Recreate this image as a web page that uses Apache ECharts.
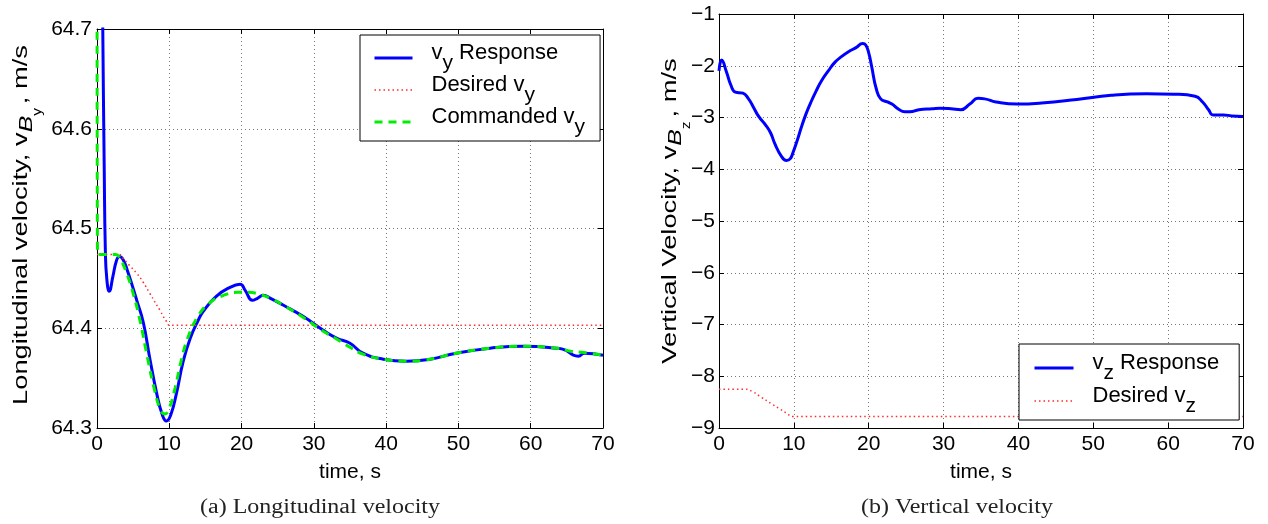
<!DOCTYPE html>
<html><head><meta charset="utf-8">
<script src="https://cdn.jsdelivr.net/npm/echarts@6/dist/echarts.min.js"></script>
<style>html,body{margin:0;padding:0;background:#fff}#c{width:1268px;height:524px}</style>
</head><body><div id="c"></div>
<script>
// ---------- data ----------
const xTicks = [0, 10, 20, 30, 40, 50, 60, 70];
const leftYTicks = [64.3, 64.4, 64.5, 64.6, 64.7];
const rightYTicks = [-9, -8, -7, -6, -5, -4, -3, -2, -1];

// (a) longitudinal velocity
const vyRespT = [0, 0.5, 0.8, 1.0, 1.15, 1.35, 1.7, 2.2, 2.7, 3.1, 3.6, 4.2, 5.0, 5.5, 6.4, 7.3, 8.25, 9.0, 9.6, 10.2, 11.0, 11.9, 12.9, 14.0, 14.7, 16.5, 18.4, 19.8, 20.5, 21.5, 22.2, 23.0, 24.0, 25.8, 28.5, 31.3, 33.2, 35.0, 36.8, 39.6, 42.8, 46.1, 49.7, 54.4, 59.0, 63.6, 64.8, 65.9, 66.6, 67.4, 70];
const vyRespV = [65.6, 64.95, 64.70, 64.56, 64.48, 64.45, 64.437, 64.452, 64.468, 64.472, 64.469, 64.458, 64.44, 64.428, 64.406, 64.37, 64.335, 64.314, 64.307, 64.313, 64.335, 64.366, 64.390, 64.408, 64.417, 64.432, 64.441, 64.444, 64.438, 64.428, 64.43, 64.433, 64.43, 64.423, 64.412, 64.398, 64.390, 64.385, 64.375, 64.369, 64.367, 64.369, 64.375, 64.380, 64.382, 64.380, 64.378, 64.373, 64.372, 64.375, 64.373];

const vyDesT = [0, 3.0, 3.6, 4.5, 5.5, 6.4, 7.3, 8.7, 9.6, 10.1, 70];
const vyDesV = [64.474, 64.474, 64.470, 64.463, 64.455, 64.446, 64.435, 64.418, 64.407, 64.403, 64.403];

const vyCmdT = [0, 0.08, 2.6, 3.1, 4.0, 5.0, 6.0, 7.0, 8.0, 8.8, 9.4, 10.0, 10.8, 11.6, 12.5, 13.8, 15.5, 17.5, 19.5, 21.0, 22.5, 24.0, 25.8, 28.5, 31.3, 33.2, 35.0, 36.8, 39.6, 42.8, 46.1, 49.7, 54.4, 59.0, 63.6, 65.5, 67.0, 70];
const vyCmdV = [64.95, 64.474, 64.474, 64.471, 64.457, 64.435, 64.406, 64.37, 64.337, 64.318, 64.314, 64.32, 64.34, 64.366, 64.389, 64.41, 64.425, 64.433, 64.436, 64.436, 64.434, 64.43, 64.423, 64.411, 64.397, 64.389, 64.381, 64.374, 64.369, 64.367, 64.369, 64.375, 64.380, 64.382, 64.380, 64.377, 64.376, 64.373];

// (b) vertical velocity
const vzRespT = [0, 0.35, 1.0, 1.6, 2.2, 3.2, 3.9, 4.6, 5.3, 6.3, 6.9, 7.5, 8.3, 9.0, 9.5, 9.9, 10.5, 11.0, 11.6, 12.2, 13.0, 13.7, 14.6, 15.5, 16.4, 17.3, 18.3, 19.2, 19.6, 20.0, 20.4, 21.0, 21.6, 22.5, 23.1, 24.0, 24.8, 25.5, 26.7, 28.5, 29.5, 31.0, 32.3, 33.5, 34.6, 35.5, 37.0, 39.8, 43.1, 47.8, 52.4, 57.1, 60.8, 63.6, 64.6, 65.4, 66.0, 67.4, 68.5, 70];
const vzRespV = [-2.10, -1.89, -2.12, -2.38, -2.51, -2.53, -2.63, -2.80, -2.98, -3.16, -3.30, -3.52, -3.74, -3.83, -3.80, -3.67, -3.42, -3.19, -2.94, -2.73, -2.48, -2.29, -2.10, -1.93, -1.82, -1.73, -1.65, -1.57, -1.60, -1.75, -2.02, -2.44, -2.64, -2.70, -2.74, -2.84, -2.89, -2.89, -2.85, -2.83, -2.82, -2.83, -2.85, -2.74, -2.63, -2.64, -2.70, -2.74, -2.72, -2.65, -2.57, -2.54, -2.55, -2.59, -2.70, -2.85, -2.95, -2.95, -2.97, -2.98];

const vzDesT = [0, 3.5, 4.5, 5.7, 7.0, 8.0, 9.0, 9.9, 70];
const vzDesV = [-8.25, -8.25, -8.30, -8.41, -8.53, -8.62, -8.71, -8.78, -8.78];

// ---------- chart ----------
const pairs = (t, v) => t.map((x, i) => [x, v[i]]);
const FONT = 'Liberation Sans';
const BLUE = '#0000ff', RED = '#ff2a2a', GREEN = '#00ee00';

function xAxes(g) {
  const base = {
    type: 'value', gridIndex: g, min: xTicks[0], max: xTicks[xTicks.length - 1], interval: 10,
    axisLine: { show: true, onZero: false, lineStyle: { color: '#000', width: 1 } },
    axisTick: { show: true, inside: true, length: 5, lineStyle: { color: '#000' } }
  };
  return [
    Object.assign({}, base, {
      position: 'bottom',
      axisLabel: { color: '#000', fontSize: 21, fontFamily: FONT, margin: 6 },
      splitLine: { show: true, lineStyle: { color: '#777', type: [1, 3], width: 1 } },
      name: 'time, s', nameLocation: 'middle', nameGap: 30,
      nameTextStyle: { color: '#000', fontSize: 21, fontFamily: FONT, lineHeight: 24 }
    }),
    Object.assign({}, base, { position: 'top', axisLabel: { show: false }, splitLine: { show: false } })
  ];
}
function yAxes(g, ticks, fmt, lblMargin) {
  const base = {
    type: 'value', gridIndex: g, min: ticks[0], max: ticks[ticks.length - 1],
    interval: Math.round((ticks[1] - ticks[0]) * 1000) / 1000,
    axisLine: { show: true, onZero: false, lineStyle: { color: '#000', width: 1 } },
    axisTick: { show: true, inside: true, length: 5, lineStyle: { color: '#000' } }
  };
  return [
    Object.assign({}, base, {
      position: 'left',
      axisLabel: { color: '#000', fontSize: 21, fontFamily: FONT, margin: lblMargin, formatter: fmt },
      splitLine: { show: true, lineStyle: { color: '#777', type: [1, 3], width: 1 } }
    }),
    Object.assign({}, base, { position: 'right', axisLabel: { show: false }, splitLine: { show: false } })
  ];
}

// rich styles: subscripts dropped with a tall line and vertical alignment
const nameRich = {
  n: { fontSize: 21, fontFamily: FONT, fill: '#000', lineHeight: 33, verticalAlign: 'top' },
  b: { fontSize: 19, fontFamily: FONT, fontStyle: 'italic', fill: '#000', lineHeight: 33, verticalAlign: 'middle' },
  s: { fontSize: 12, fontFamily: FONT, fill: '#000', lineHeight: 33, verticalAlign: 'bottom', padding: [0, 3, 0, 0] }
};
const legendRich = {
  p: { width: 14, lineHeight: 32, verticalAlign: 'top' },
  n: { fontSize: 22, fontFamily: FONT, color: '#000', lineHeight: 32, verticalAlign: 'top' },
  s: { fontSize: 21, fontFamily: FONT, color: '#000', lineHeight: 32, verticalAlign: 'bottom' }
};
const legendLabels = {
  vyResp: '{p|}{n|v}{s|y}{n| Response}',
  vyDes: '{p|}{n|Desired v}{s|y}',
  vyCmd: '{p|}{n|Commanded v}{s|y}',
  vzResp: '{p|}{n|v}{s|z}{n| Response}',
  vzDes: '{p|}{n|Desired v}{s|z}'
};

const lineBase = { type: 'line', symbol: 'none', showSymbol: false, smooth: 0.5, animation: false };
const legendBase = {
  orient: 'vertical', itemWidth: 38, itemHeight: 14,
  borderColor: '#000', borderWidth: 1, backgroundColor: '#fff',
  itemStyle: { opacity: 0 },
  lineStyle: { width: 'inherit' },
  formatter: n => legendLabels[n],
  textStyle: { fontSize: 22, fontFamily: FONT, color: '#000', rich: legendRich },
  selectedMode: false
};

const option = {
  animation: false,
  backgroundColor: '#fff',
  grid: [
    { left: 97, right: 665, top: 29, bottom: 96 },
    { left: 719, right: 25, top: 14, bottom: 96 }
  ],
  xAxis: [...xAxes(0), ...xAxes(1)],
  yAxis: [
    ...yAxes(0, leftYTicks, v => v.toFixed(1), 5),
    ...yAxes(1, rightYTicks, v => String(v).replace('-', '\u2212'), 4)
  ],
  legend: [
    Object.assign({}, legendBase, {
      data: ['vyResp', 'vyDes', 'vyCmd'], left: 360, top: 35,
      padding: [7, 15, 3, 13], itemGap: 0
    }),
    Object.assign({}, legendBase, {
      data: ['vzResp', 'vzDes'], left: 1019, top: 344,
      padding: [8, 20, 3, 14], itemGap: 1, itemWidth: 39
    })
  ],
  series: [
    Object.assign({}, lineBase, { name: 'vyResp', xAxisIndex: 0, yAxisIndex: 0, data: pairs(vyRespT, vyRespV),
      lineStyle: { color: BLUE, width: 3 }, itemStyle: { color: BLUE } }),
    Object.assign({}, lineBase, { name: 'vyDes', xAxisIndex: 0, yAxisIndex: 0, data: pairs(vyDesT, vyDesV),
      lineStyle: { color: RED, width: 1.5, type: [1.5, 3] }, itemStyle: { color: RED } }),
    Object.assign({}, lineBase, { name: 'vyCmd', xAxisIndex: 0, yAxisIndex: 0, data: pairs(vyCmdT, vyCmdV),
      lineStyle: { color: GREEN, width: 3, type: [8, 6] }, itemStyle: { color: GREEN } }),
    Object.assign({}, lineBase, { name: 'vzResp', xAxisIndex: 2, yAxisIndex: 2, data: pairs(vzRespT, vzRespV),
      lineStyle: { color: BLUE, width: 3 }, itemStyle: { color: BLUE } }),
    Object.assign({}, lineBase, { name: 'vzDes', xAxisIndex: 2, yAxisIndex: 2, data: pairs(vzDesT, vzDesV),
      lineStyle: { color: RED, width: 1.5, type: [1.5, 3] }, itemStyle: { color: RED } })
  ],
  graphic: [
    // y-axis titles (rotated, stretched along their length like the reference)
    { type: 'text', x: 27, y: 225, rotation: Math.PI / 2, scaleX: 1.3,
      style: { text: '{n|Longitudinal velocity, v}{b|B}{s|y}{n|, m/s}', rich: nameRich, font: '21px "Liberation Sans"', fill: '#000', align: 'center', verticalAlign: 'middle' } },
    { type: 'text', x: 676, y: 211, rotation: Math.PI / 2, scaleX: 1.3,
      style: { text: '{n|Vertical Velocity, v}{b|B}{s|z}{n|, m/s}', rich: nameRich, font: '21px "Liberation Sans"', fill: '#000', align: 'center', verticalAlign: 'middle' } },
    // sub-figure captions
    { type: 'text', x: 320, y: 508, scaleX: 1.2,
      style: { text: '(a) Longitudinal velocity', fill: '#222', font: '20px "Liberation Serif"', align: 'center', verticalAlign: 'middle' } },
    { type: 'text', x: 957, y: 508, scaleX: 1.2,
      style: { text: '(b) Vertical velocity', fill: '#222', font: '20px "Liberation Serif"', align: 'center', verticalAlign: 'middle' } }
  ]
};

const chart = echarts.init(document.getElementById('c'), null, { renderer: 'canvas' });
chart.setOption(option);
</script>
</body></html>
